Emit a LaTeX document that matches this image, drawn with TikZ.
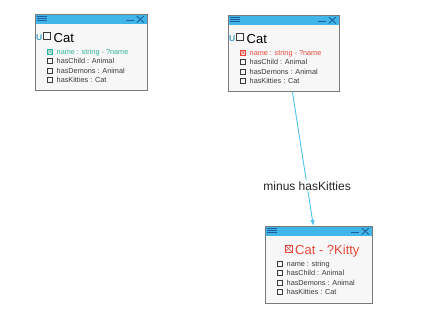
\documentclass[tikz,border=0pt]{standalone}
\usepackage{fontspec}
\setmainfont{Liberation Sans}
\usetikzlibrary{calc,arrows.meta}

\definecolor{barblue}{HTML}{40B6E8}
\definecolor{iconblue}{HTML}{1F5E9E}
\definecolor{boxborder}{HTML}{7A7A7A}
\definecolor{boxfill}{HTML}{F7F7F7}
\definecolor{unionteal}{HTML}{3BA3C7}
\definecolor{keptgreen}{HTML}{2DB39A}
\definecolor{dropred}{HTML}{E5493A}
\definecolor{fieldgray}{HTML}{3A3A3A}
\definecolor{linkblue}{HTML}{4DC3EE}

\tikzset{
  classbox/.style={draw=boxborder, fill=boxfill, line width=0.8pt, rectangle,
    inner sep=0pt, anchor=north west},
  boxline/.style={draw=boxborder, line width=0.8pt},
  icon/.style={draw=iconblue, line width=0.9pt},
  chkbox/.style={draw=fieldgray, line width=0.55pt},
  fieldtext/.style={font=\fontsize{7.3}{8}\selectfont, text=fieldgray,
    anchor=base west, inner sep=0pt},
  headtext/.style={font=\fontsize{13}{15}\selectfont, anchor=base west, inner sep=0pt},
  uniontag/.style={font=\fontsize{8.5}{10}\selectfont\bfseries, text=unionteal,
    anchor=base west, inner sep=0pt},
  link/.style={draw=linkblue, line width=0.9pt, -{Latex[length=6pt,width=4.5pt]}},
  linklabel/.style={font=\fontsize{12}{14}\selectfont, text=black!85, fill=white,
    inner sep=1pt},
}

% window chrome: title bar, menu icon, minimise and close glyphs
\newcommand{\chrome}[1]{%
  \fill[barblue] (#1.north west) rectangle ($(#1.north east)+(0,10)$);
  \draw[boxline] (#1.north west) rectangle (#1.south east);
  \foreach \dy in {2,4.2,6.4}
    \draw[icon] ($(#1.north west)+(2,\dy)$) -- ++(10,0);
  \draw[icon] ($(#1.north east)+(-22,6.3)$) -- ++(8,0);
  \draw[icon] ($(#1.north east)+(-11,2)$) -- ++(7,6.5);
  \draw[icon] ($(#1.north east)+(-11,8.5)$) -- ++(7,-6.5);
}

% small field check box at row offset #2
\newcommand{\fieldbox}[3]{%
  \draw[chkbox,#3] ($(#1.north west)+(12.7,#2-2.3)$) rectangle ++(4.6,4.6);
}
% crossed check box
\newcommand{\crossbox}[5]{%
  \draw[#5, line width=0.6pt] ($(#1.north west)+(#2,#3)$) rectangle ++(#4,#4);
  \draw[#5, line width=0.6pt] ($(#1.north west)+(#2,#3)$) -- ++(#4,#4);
  \draw[#5, line width=0.6pt] ($(#1.north west)+(#2,#3)+(#4,0)$) -- ++(-#4,#4);
}

\begin{document}
\begin{tikzpicture}[x=1pt,y=-1pt]
\useasboundingbox (0,0) rectangle (431,319);

% ---- three class windows ----
\node[classbox, minimum width=112pt, minimum height=76pt] (c1) at (35,14) {};
\node[classbox, minimum width=111pt, minimum height=76pt] (c2) at (228,15) {};
\node[classbox, minimum width=107pt, minimum height=77pt] (c3) at (265,226) {};

\chrome{c1}
\chrome{c2}
\chrome{c3}

% ---- headers ----
\node[uniontag] (c1u) at ($(c1.north west)+(1,26)$) {U};
\draw[chkbox, line width=0.7pt] ($(c1.north west)+(8.5,18.5)$) rectangle ++(7,7);
\node[headtext] (c1h) at ($(c1.north west)+(18.5,28)$) {Cat};

\node[uniontag] (c2u) at ($(c2.north west)+(1,26)$) {U};
\draw[chkbox, line width=0.7pt] ($(c2.north west)+(8.5,18.5)$) rectangle ++(7,7);
\node[headtext] (c2h) at ($(c2.north west)+(18.5,28)$) {Cat};

\crossbox{c3}{20}{19}{7}{dropred}
\node[headtext, text=dropred] (c3h) at ($(c3.north west)+(30,28)$) {Cat - ?Kitty};

% ---- field rows ----
% first window: name kept (green)
\crossbox{c1}{12.7}{35.2}{4.6}{keptgreen}
\node[fieldtext, text=keptgreen] (c1f0) at ($(c1.north west)+(21.5,40)$) {name : string - ?name};
% second window: name dropped (red)
\crossbox{c2}{12.7}{35.2}{4.6}{dropred}
\node[fieldtext, text=dropred] (c2f0) at ($(c2.north west)+(21.5,40)$) {name : string - ?name};
% third window: plain name
\fieldbox{c3}{37.5}{}
\node[fieldtext] (c3f0) at ($(c3.north west)+(21.5,40)$) {name : string};

\foreach \b in {c1,c2,c3}{
  \foreach \txt [count=\k] in {hasChild : Animal, hasDemons : Animal, hasKitties : Cat}{
    \pgfmathsetmacro{\ry}{37.5+9.5*\k}
    \fieldbox{\b}{\ry}{}
    \node[fieldtext] (\b f\k) at ($(\b.north west)+(21.5,\ry+2.5)$) {\txt};
  }
}

% ---- connector ----
\draw[link] ($(c2.south)+(8.5,0)$) -- node[linklabel, pos=0.7] (lab) {minus hasKitties}
  ($(c3.north)+(-5.5,0)$);
\end{tikzpicture}
\end{document}
